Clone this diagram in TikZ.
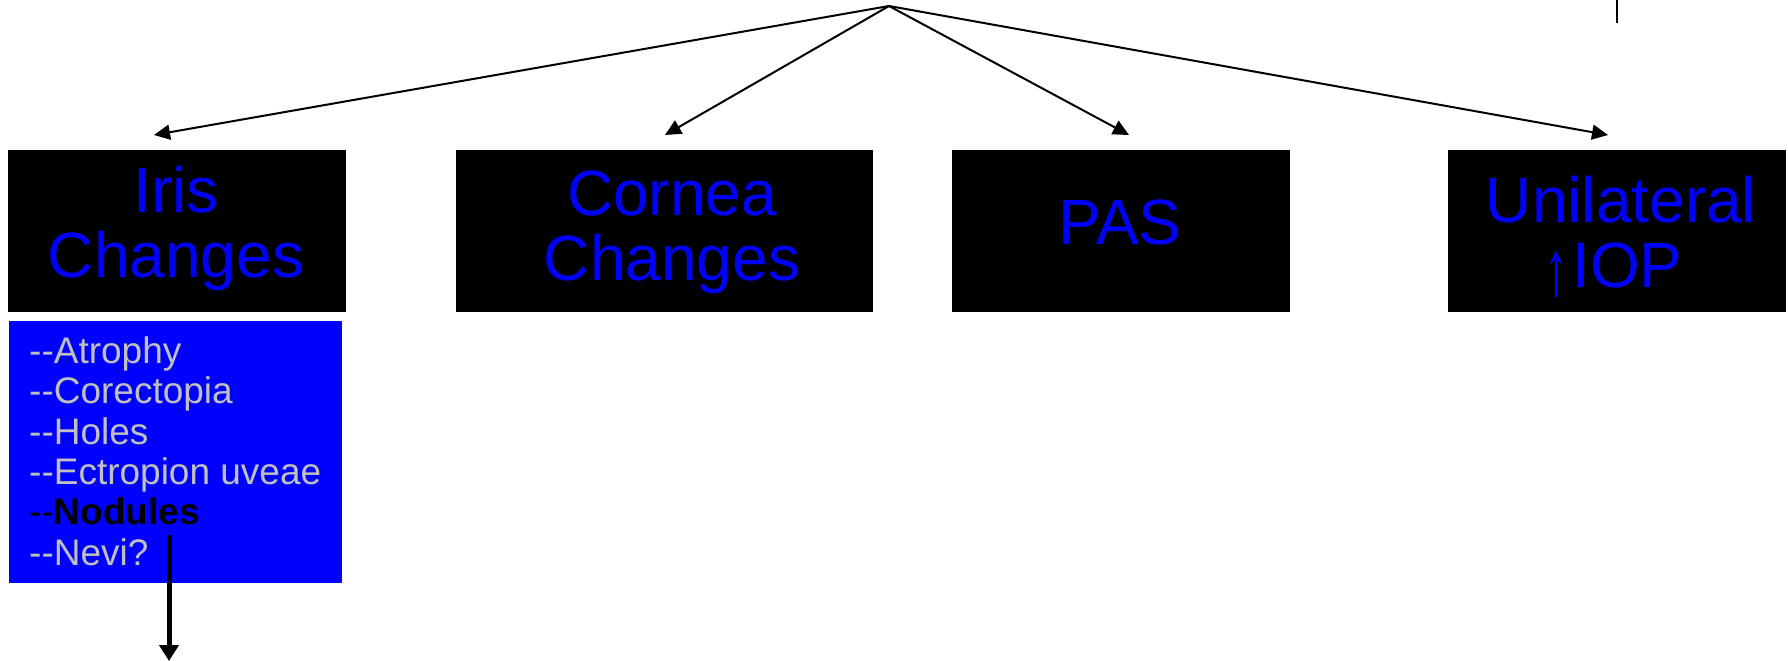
\documentclass[tikz,border=0pt]{standalone}
\usepackage{fontspec}
\setmainfont{Liberation Sans}
\usetikzlibrary{arrows.meta}
\definecolor{pblue}{RGB}{0,0,255}
\definecolor{lgray}{RGB}{192,192,192}
\tikzset{
  topbox/.style={fill=black, draw=none, minimum width=338pt, minimum height=162pt, inner sep=0pt},
  boxtext/.style={anchor=base, inner sep=0pt, text=pblue, font=\fontsize{64}{65}\selectfont},
  conn/.style={line width=2pt, -{Triangle[length=16pt,width=15pt]}},
  item/.style={anchor=base west, inner sep=0pt, text=lgray, font=\fontsize{37}{40}\selectfont},
}
\begin{document}
\begin{tikzpicture}[x=1pt,y=-1pt]
\useasboundingbox (0,0) rectangle (1788,661);
% boxes
\node[topbox] (iris) at (177,231) {};
\node[topbox, minimum width=417pt] (cornea) at (664.5,230.5) {};
\node[topbox] (pas) at (1121,231) {};
\node[topbox] (uni) at (1617,231) {};
% box texts
\node[boxtext] (iris1) at (176,212) {Iris};
\node[boxtext] (iris2) at (176,277) {Changes};
\node[boxtext] (cor1) at (672,215) {Cornea};
\node[boxtext] (cor2) at (672,280) {Changes};
\node[boxtext] (pas1) at (1120,244) {PAS};
\node[boxtext] (uni1) at (1621,222) {Unilateral};
\node[boxtext, font=\fontsize{48}{48}\selectfont] (uparr) at (1556,295) {\scalebox{1}[1.63]{↑}};
\node[boxtext, anchor=base west] (uni2) at (1572,287) {IOP};
% list
\node[fill=pblue, minimum width=333pt, minimum height=262pt, inner sep=0pt] (list) at (175.5,452) {};
\node[item] (l1) at (29,363) {-{}-Atrophy};
\node[item] (l2) at (29,403) {-{}-Corectopia};
\node[item] (l3) at (29,444) {-{}-Holes};
\node[item] (l4) at (29,484) {-{}-Ectropion uveae};
\node[item, text=black] (l5) at (29,524) {-{}-\textbf{Nodules}};
\node[item] (l6) at (29,565) {-{}-Nevi?};
% connectors
\coordinate (apex) at (889,6);
\coordinate (t1) at (154,135);
\coordinate (t2) at (665,135);
\coordinate (t3) at (1129,135);
\coordinate (t4) at (1608,135);
\draw[conn] (apex) -- (t1);
\draw[conn] (apex) -- (t2);
\draw[conn] (apex) -- (t3);
\draw[conn] (apex) -- (t4);
\coordinate (ns) at (169,535);
\coordinate (ne) at (169,661);
\draw[line width=5pt, -{Triangle[length=16pt,width=19pt]}] (ns) -- (ne);
\coordinate (k1) at (1617,0);
\coordinate (k2) at (1617,23);
\draw[line width=2pt] (k1) -- (k2);
\end{tikzpicture}
\end{document}
